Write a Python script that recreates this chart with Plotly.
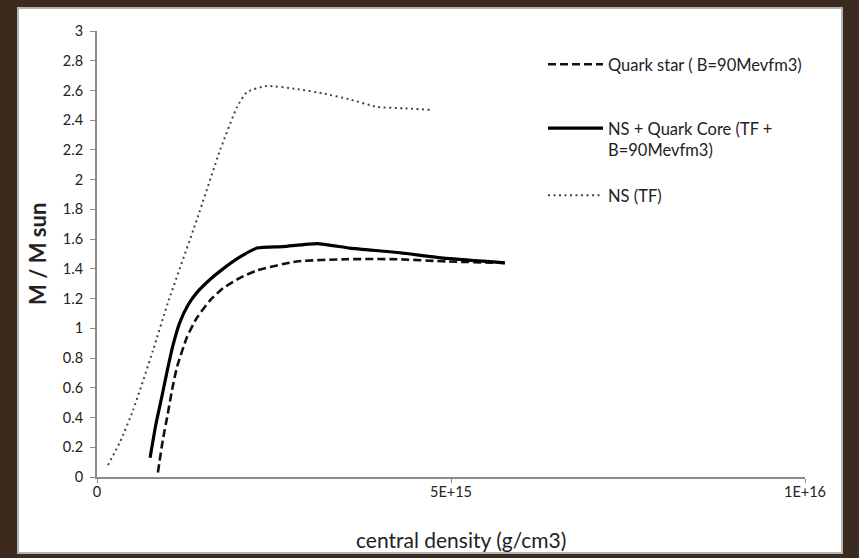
import plotly.graph_objects as go

# central density in units of 1e15 g/cm3, mass in solar masses
qs_rho = [0.86, 0.93, 0.99, 1.06, 1.13, 1.27, 1.41, 1.60, 1.78, 2.02, 2.26, 2.82, 3.53, 4.24, 4.94, 5.76]
qs_mass = [0.03, 0.25, 0.40, 0.585, 0.74, 0.94, 1.07, 1.19, 1.27, 1.34, 1.39, 1.45, 1.465, 1.465, 1.45, 1.44]

hy_rho = [0.75, 0.83, 0.92, 0.99, 1.07, 1.17, 1.29, 1.41, 1.60, 1.78, 2.02, 2.26, 2.63, 3.11, 3.57, 4.24, 4.94, 5.76]
hy_mass = [0.13, 0.35, 0.55, 0.71, 0.88, 1.04, 1.16, 1.24, 1.33, 1.40, 1.48, 1.54, 1.55, 1.57, 1.54, 1.51, 1.47, 1.44]

ns_rho = [0.155, 0.33, 0.51, 0.79, 1.00, 1.41, 1.74, 1.98, 2.12, 2.40, 2.82, 3.19, 3.57, 3.95, 4.32, 4.70]
ns_mass = [0.08, 0.24, 0.45, 0.85, 1.17, 1.73, 2.20, 2.49, 2.59, 2.63, 2.61, 2.58, 2.54, 2.49, 2.48, 2.47]

x_ticks = [0, 5e15, 1e16]
x_tick_text = ["0", "5E+15", "1E+16"]
y_ticks = [round(0.2 * i, 1) for i in range(16)]
y_tick_text = ["0", "0.2", "0.4", "0.6", "0.8", "1", "1.2", "1.4", "1.6", "1.8",
               "2", "2.2", "2.4", "2.6", "2.8", "3"]

FONT = "Lato"
SCALE = 1e15

fig = go.Figure()
fig.add_trace(go.Scatter(
    x=[r * SCALE for r in qs_rho], y=qs_mass, mode="lines",
    name="Quark star ( B=90Mevfm3)",
    line=dict(color="#111111", width=2.6, dash="8px,4px", shape="spline", smoothing=0.5),
    legend="legend",
))
fig.add_trace(go.Scatter(
    x=[r * SCALE for r in hy_rho], y=hy_mass, mode="lines",
    name="NS + Quark Core (TF +<br>B=90Mevfm3)",
    line=dict(color="#000000", width=3.2, shape="spline", smoothing=0.5),
    legend="legend2",
))
fig.add_trace(go.Scatter(
    x=[r * SCALE for r in ns_rho], y=ns_mass, mode="lines",
    name="NS (TF)",
    line=dict(color="#444444", width=2, dash="2px,3.5px", shape="spline", smoothing=0.5),
    legend="legend3",
))

# plot area: x 97..805 px, y 31..477 px
L, R, T, B = 97, 805, 31, 477
W, H = R - L, B - T


def px(xp):
    return (xp - L) / W


def py(yp):
    return (B - yp) / H


legend_common = dict(
    font=dict(family=FONT, size=16.5, color="#222222"),
    bgcolor="rgba(0,0,0,0)",
    xanchor="left",
    yanchor="top",
    valign="top",
    itemwidth=55,
)

fig.update_layout(
    width=859, height=558,
    margin=dict(l=L, r=859 - R, t=T, b=558 - B),
    paper_bgcolor="#3b2a1d",
    plot_bgcolor="white",
    showlegend=True,
    legend=dict(x=px(543), y=py(47), **legend_common),
    legend2=dict(x=px(543), y=py(111), **legend_common),
    legend3=dict(x=px(543), y=py(178), **legend_common),
    xaxis=dict(
        range=[0, 1e16], tickvals=x_ticks, ticktext=x_tick_text,
        showgrid=False, zeroline=False,
        showline=True, linecolor="#8a8a8a", linewidth=2,
        ticks="outside", ticklen=4, tickcolor="#8a8a8a", tickwidth=1,
        ticklabelstandoff=-3,
        tickfont=dict(family=FONT, size=14.5, color="#222222"),
    ),
    yaxis=dict(
        range=[0, 3], tickvals=y_ticks, ticktext=y_tick_text,
        showgrid=False, zeroline=False,
        showline=True, linecolor="#8a8a8a", linewidth=2,
        ticks="outside", ticklen=5, tickcolor="#8a8a8a", tickwidth=1,
        ticklabelstandoff=4,
        tickfont=dict(family=FONT, size=14.5, color="#222222"),
    ),
    shapes=[
        dict(type="rect", xref="paper", yref="paper", layer="below",
             x0=px(18), x1=px(842), y0=py(553), y1=py(8),
             fillcolor="white", line=dict(color="#b4b4b4", width=2)),
    ],
    annotations=[
        dict(text="central density (g/cm3)", xref="paper", yref="paper",
             x=px(461), y=py(539), xanchor="center", yanchor="middle", showarrow=False,
             font=dict(family=FONT, size=21, color="#222222")),
        dict(text="<b>M / M sun</b>", xref="paper", yref="paper",
             x=px(37), y=py(254), xanchor="center", yanchor="middle",
             textangle=-90, showarrow=False,
             font=dict(family=FONT, size=22, color="#222222")),
    ],
)

fig.write_html("out.html")
